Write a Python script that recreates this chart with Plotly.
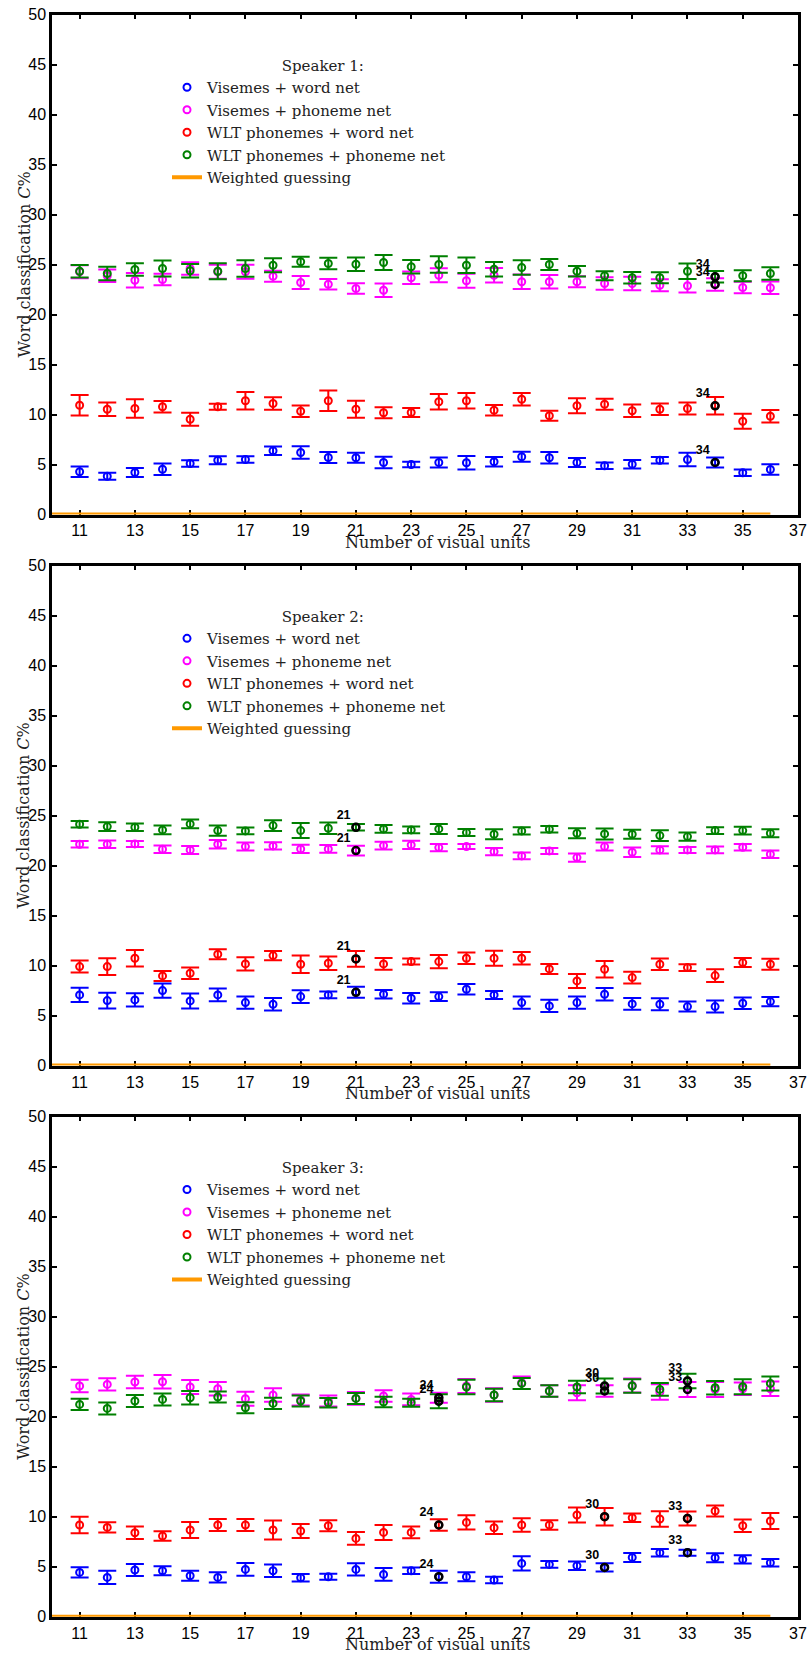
import plotly.graph_objects as go

units = [11, 12, 13, 14, 15, 16, 17, 18, 19, 20, 21, 22, 23, 24, 25, 26, 27, 28, 29, 30, 31, 32, 33, 34, 35, 36]
series_names = ["Visemes + word net", "Visemes + phoneme net", "WLT phonemes + word net", "WLT phonemes + phoneme net"]
series_colors = ["#0000ff", "#ff00ff", "#ff0000", "#008000"]
speakers = ["Speaker 1:", "Speaker 2:", "Speaker 3:"]
highlight_units = [[34], [21], [24, 30, 33]]

# Speaker 1
s1_vis_word = [4.27, 3.83, 4.2, 4.53, 5.1, 5.43, 5.5, 6.37, 6.2, 5.7, 5.67, 5.2, 5.0, 5.2, 5.17, 5.27, 5.77, 5.67, 5.2, 4.87, 5.03, 5.43, 5.5, 5.2, 4.17, 4.5]
s1_vis_word_err = [0.53, 0.35, 0.45, 0.58, 0.33, 0.4, 0.33, 0.42, 0.62, 0.55, 0.5, 0.58, 0.28, 0.5, 0.67, 0.47, 0.5, 0.58, 0.45, 0.33, 0.42, 0.33, 0.67, 0.5, 0.33, 0.53]
s1_vis_phon = [24.27, 23.87, 23.43, 23.5, 24.6, 24.27, 24.27, 23.83, 23.2, 23.03, 22.6, 22.43, 23.67, 23.93, 23.37, 23.93, 23.27, 23.27, 23.27, 23.1, 23.1, 22.93, 22.87, 23.0, 22.7, 22.67]
s1_vis_phon_err = [0.65, 0.63, 0.73, 0.58, 0.63, 0.7, 0.7, 0.55, 0.65, 0.53, 0.53, 0.67, 0.62, 0.7, 0.7, 0.73, 0.73, 0.67, 0.55, 0.62, 0.67, 0.6, 0.68, 0.63, 0.58, 0.62]
s1_wlt_word = [10.93, 10.53, 10.6, 10.77, 9.53, 10.77, 11.37, 11.1, 10.33, 11.37, 10.53, 10.17, 10.2, 11.27, 11.37, 10.43, 11.53, 9.87, 10.87, 11.03, 10.37, 10.53, 10.6, 10.87, 9.33, 9.83]
s1_wlt_word_err = [1.03, 0.67, 0.93, 0.57, 0.65, 0.3, 0.88, 0.62, 0.58, 1.02, 0.85, 0.55, 0.45, 0.78, 0.78, 0.53, 0.62, 0.5, 0.75, 0.55, 0.63, 0.58, 0.6, 0.88, 0.75, 0.62]
s1_wlt_phon = [24.33, 24.1, 24.5, 24.6, 24.37, 24.33, 24.6, 24.93, 25.27, 25.1, 25.03, 25.2, 24.77, 25.0, 24.93, 24.53, 24.7, 25.0, 24.33, 23.87, 23.67, 23.67, 24.33, 23.77, 23.87, 24.1]
s1_wlt_phon_err = [0.62, 0.67, 0.62, 0.8, 0.67, 0.8, 0.83, 0.7, 0.5, 0.58, 0.67, 0.75, 0.67, 0.83, 0.78, 0.72, 0.72, 0.55, 0.53, 0.45, 0.58, 0.55, 0.77, 0.58, 0.55, 0.63]

# Speaker 2
s2_vis_word = [7.07, 6.5, 6.57, 7.5, 6.47, 7.07, 6.3, 6.13, 6.9, 7.07, 7.33, 7.13, 6.73, 6.9, 7.63, 7.07, 6.3, 5.97, 6.3, 7.13, 6.17, 6.13, 5.9, 5.9, 6.23, 6.4]
s2_vis_word_err = [0.72, 0.78, 0.67, 0.72, 0.75, 0.63, 0.62, 0.63, 0.63, 0.33, 0.55, 0.42, 0.53, 0.43, 0.53, 0.4, 0.62, 0.62, 0.62, 0.63, 0.58, 0.6, 0.5, 0.6, 0.57, 0.47]
s2_vis_phon = [22.13, 22.13, 22.17, 21.63, 21.57, 22.13, 21.9, 21.97, 21.67, 21.67, 21.5, 22.0, 22.07, 21.8, 21.9, 21.4, 20.97, 21.47, 20.8, 21.9, 21.33, 21.57, 21.57, 21.57, 21.83, 21.13]
s2_vis_phon_err = [0.33, 0.37, 0.3, 0.38, 0.4, 0.42, 0.4, 0.37, 0.42, 0.38, 0.48, 0.38, 0.42, 0.37, 0.25, 0.37, 0.33, 0.3, 0.42, 0.4, 0.47, 0.37, 0.3, 0.33, 0.32, 0.38]
s2_wlt_word = [9.9, 9.9, 10.73, 8.97, 9.23, 11.13, 10.17, 11.0, 10.13, 10.23, 10.67, 10.17, 10.4, 10.4, 10.73, 10.73, 10.73, 9.67, 8.47, 9.63, 8.8, 10.13, 9.8, 9.0, 10.3, 10.13]
s2_wlt_word_err = [0.6, 0.83, 0.83, 0.5, 0.58, 0.5, 0.67, 0.47, 0.87, 0.67, 0.78, 0.58, 0.3, 0.67, 0.57, 0.75, 0.63, 0.5, 0.7, 0.82, 0.58, 0.58, 0.33, 0.63, 0.45, 0.55]
s2_wlt_phon = [24.13, 23.9, 23.83, 23.57, 24.17, 23.5, 23.47, 24.0, 23.5, 23.73, 23.83, 23.67, 23.57, 23.67, 23.3, 23.13, 23.47, 23.63, 23.23, 23.17, 23.13, 23.0, 22.9, 23.5, 23.5, 23.23]
s2_wlt_phon_err = [0.32, 0.43, 0.37, 0.43, 0.43, 0.52, 0.33, 0.53, 0.75, 0.57, 0.33, 0.38, 0.33, 0.5, 0.35, 0.5, 0.37, 0.33, 0.5, 0.55, 0.45, 0.53, 0.42, 0.33, 0.38, 0.4]

# Speaker 3
s3_vis_word = [4.43, 3.93, 4.67, 4.6, 4.1, 3.93, 4.73, 4.6, 3.9, 4.0, 4.73, 4.23, 4.6, 4.0, 4.0, 3.67, 5.33, 5.23, 5.1, 4.93, 5.93, 6.4, 6.4, 5.9, 5.73, 5.4]
s3_vis_word_err = [0.52, 0.67, 0.6, 0.45, 0.5, 0.52, 0.63, 0.62, 0.38, 0.3, 0.62, 0.63, 0.32, 0.6, 0.45, 0.33, 0.72, 0.33, 0.42, 0.42, 0.45, 0.37, 0.3, 0.45, 0.42, 0.38]
s3_vis_phon = [23.07, 23.23, 23.47, 23.5, 22.97, 22.8, 21.8, 22.17, 21.67, 21.57, 21.83, 22.07, 21.73, 21.9, 23.07, 22.17, 23.4, 22.57, 22.4, 22.57, 23.13, 22.47, 22.73, 22.73, 22.8, 22.8]
s3_vis_phon_err = [0.62, 0.62, 0.63, 0.68, 0.7, 0.67, 0.7, 0.67, 0.55, 0.55, 0.63, 0.58, 0.58, 0.5, 0.7, 0.67, 0.63, 0.58, 0.75, 0.57, 0.7, 0.78, 0.75, 0.75, 0.62, 0.73]
s3_wlt_word = [9.17, 8.93, 8.4, 8.07, 8.67, 9.17, 9.17, 8.67, 8.57, 9.1, 7.83, 8.43, 8.43, 9.17, 9.43, 8.9, 9.17, 9.17, 10.17, 10.0, 9.9, 9.77, 9.83, 10.57, 9.1, 9.57]
s3_wlt_word_err = [0.83, 0.52, 0.62, 0.47, 0.8, 0.6, 0.6, 0.95, 0.7, 0.55, 0.63, 0.75, 0.58, 0.57, 0.72, 0.62, 0.67, 0.47, 0.75, 0.87, 0.42, 0.78, 0.7, 0.55, 0.62, 0.8]
s3_wlt_phon = [21.23, 20.83, 21.57, 21.73, 21.9, 21.97, 20.9, 21.33, 21.57, 21.4, 21.83, 21.47, 21.4, 21.55, 22.97, 22.17, 23.33, 22.57, 22.97, 23.07, 23.07, 22.73, 23.57, 22.9, 23.0, 23.33]
s3_wlt_phon_err = [0.57, 0.6, 0.6, 0.6, 0.67, 0.55, 0.55, 0.57, 0.55, 0.47, 0.55, 0.53, 0.4, 0.7, 0.72, 0.62, 0.55, 0.58, 0.62, 0.75, 0.67, 0.63, 0.72, 0.67, 0.75, 0.7]

guess_x = [10, 36]
guess_y = [0.0, 0.0]

x_ticks = [11, 13, 15, 17, 19, 21, 23, 25, 27, 29, 31, 33, 35, 37]
y_ticks = [0, 5, 10, 15, 20, 25, 30, 35, 40, 45, 50]
x_title = "Number of visual units"
y_title = "Word classification <i>C</i>%"

panels = [
    [(s1_vis_word, s1_vis_word_err), (s1_vis_phon, s1_vis_phon_err), (s1_wlt_word, s1_wlt_word_err), (s1_wlt_phon, s1_wlt_phon_err)],
    [(s2_vis_word, s2_vis_word_err), (s2_vis_phon, s2_vis_phon_err), (s2_wlt_word, s2_wlt_word_err), (s2_wlt_phon, s2_wlt_phon_err)],
    [(s3_vis_word, s3_vis_word_err), (s3_vis_phon, s3_vis_phon_err), (s3_wlt_word, s3_wlt_word_err), (s3_wlt_phon, s3_wlt_phon_err)],
]

W, H = 809, 1657
m_l, m_r, m_t, m_b = 52, 11, 14, 40
plot_h = H - m_t - m_b
plot_w = W - m_l - m_r
panel_px = 500
panel_tops = [14.5, 565.6, 1116.7]

SERIF = "DejaVu Serif, Liberation Serif, serif"
SANS_N = "Liberation Sans Narrow, Liberation Sans, Arial, sans-serif"
TXT = "#222222"

fig = go.Figure()
layout = dict(
    width=W, height=H,
    margin=dict(l=m_l, r=m_r, t=m_t, b=m_b, autoexpand=False),
    paper_bgcolor="white", plot_bgcolor="white",
    showlegend=True,
)
annotations = []

for p in range(3):
    sfx = "" if p == 0 else str(p + 1)
    xref = "x" + sfx
    yref = "y" + sfx
    lg = "legend" + sfx
    top = panel_tops[p]
    y1 = min(1.0, (H - m_b - top) / plot_h)
    y0 = max(0.0, (H - m_b - (top + panel_px)) / plot_h)

    for k, (vals, errs) in enumerate(panels[p]):
        fig.add_trace(go.Scatter(
            x=units, y=vals, mode="markers", name=series_names[k],
            xaxis=xref, yaxis=yref, legend=lg,
            marker=dict(symbol="circle-open", size=7, color=series_colors[k], line=dict(width=2, color=series_colors[k])),
            error_y=dict(type="data", array=errs, visible=True, color=series_colors[k], thickness=2, width=9),
        ))
    fig.add_trace(go.Scatter(
        x=guess_x, y=guess_y, mode="lines", name="Weighted guessing",
        xaxis=xref, yaxis=yref, legend=lg, cliponaxis=False,
        line=dict(color="#ff9900", width=4),
    ))
    hx, hy, ht = [], [], []
    for k, (vals, errs) in enumerate(panels[p]):
        for u in highlight_units[p]:
            i = units.index(u)
            hx.append(u)
            hy.append(vals[i])
            ht.append("<b>%d</b>" % u)
    fig.add_trace(go.Scatter(
        x=hx, y=hy, mode="markers+text", text=ht, textposition="top left",
        textfont=dict(family="Liberation Sans, Arial, sans-serif", size=12.5, color="black"),
        xaxis=xref, yaxis=yref, showlegend=False, cliponaxis=False,
        marker=dict(symbol="circle-open", size=7, color="black", line=dict(width=2.5, color="black")),
    ))

    layout["xaxis" + sfx] = dict(
        domain=[0, 1], anchor=yref, range=[10, 37], tickvals=x_ticks,
        ticks="inside", ticklen=5, tickwidth=2, tickcolor="black",
        showline=True, linewidth=2.5, linecolor="black", mirror="ticks",
        showgrid=False, zeroline=False, layer="below traces",
        ticklabeloverflow="allow",
        tickfont=dict(family=SANS_N, size=16, color="black"),
    )
    layout["yaxis" + sfx] = dict(
        domain=[y0, y1], anchor=xref, range=[0, 50], tickvals=y_ticks,
        ticks="inside", ticklen=5, tickwidth=2, tickcolor="black",
        showline=True, linewidth=2.5, linecolor="black", mirror="ticks",
        showgrid=False, zeroline=False, layer="below traces",
        ticklabeloverflow="allow",
        tickfont=dict(family=SANS_N, size=16, color="black"),
    )
    annotations.append(dict(
        text=x_title, xref="paper", yref="paper", x=(437 - m_l) / plot_w, y=y0,
        xanchor="center", yanchor="middle", yshift=-28, showarrow=False,
        font=dict(family=SERIF, size=16, color=TXT),
    ))
    annotations.append(dict(
        text=y_title, xref="paper", yref="paper", x=0, y=(y0 + y1) / 2,
        xanchor="center", yanchor="middle", xshift=-(m_l - 24), showarrow=False,
        textangle=-90, font=dict(family=SERIF, size=16, color=TXT),
    ))
    leg_top_px = top + 37
    layout[lg] = dict(
        x=(167 - m_l) / plot_w, xanchor="left",
        y=(H - m_b - leg_top_px) / plot_h, yanchor="top",
        xref="paper", yref="paper",
        bgcolor="rgba(0,0,0,0)", borderwidth=0,
        title=dict(text="&nbsp;" * 6 + speakers[p], side="top center", font=dict(family=SERIF, size=15, color=TXT)),
        font=dict(family=SERIF, size=15, color=TXT),
        tracegroupgap=0,
    )

layout["annotations"] = annotations
fig.update_layout(**layout)
fig.write_html(
    "out.html",
    config={"displayModeBar": False},
    post_script="document.body.style.margin='0';document.body.style.padding='0';document.body.style.overflow='hidden';",
)
